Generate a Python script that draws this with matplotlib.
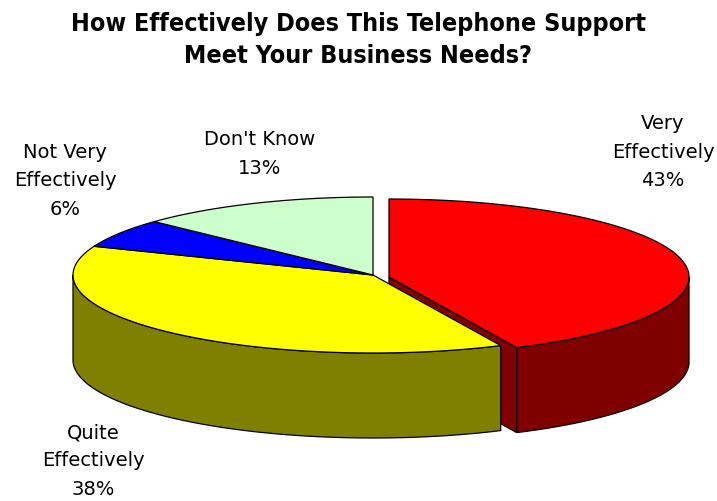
import numpy as np
import matplotlib
matplotlib.use("Agg")
import matplotlib.pyplot as plt
from matplotlib.patches import Polygon
from matplotlib import font_manager

# ---- data ----
categories = ["Very\nEffectively", "Quite\nEffectively", "Not Very\nEffectively", "Don't Know"]
values = [43, 38, 6, 13]
top_colors = ["#FF0000", "#FFFF00", "#0000FF", "#CCFFCC"]
side_colors = ["#800000", "#808000", "#000080", "#669966"]
exploded = [True, False, False, False]
title = "How Effectively Does This Telephone Support\nMeet Your Business Needs?"

# ---- fonts ----
def has_font(name):
    try:
        font_manager.findfont(font_manager.FontProperties(family=name), fallback_to_default=False)
        return True
    except Exception:
        return False

title_family = "Liberation Sans Narrow" if has_font("Liberation Sans Narrow") else "DejaVu Sans"
title_stretch = "normal" if title_family == "Liberation Sans Narrow" else "condensed"

W, H = 717, 501
fig = plt.figure(figsize=(W / 100, H / 100), dpi=100)
ax = fig.add_axes([0, 0, 1, 1])
ax.set_xlim(0, W)
ax.set_ylim(H, 0)
ax.axis("off")

# geometry of the 3D pie (screen layout)
CX, CY = 373, 275      # centre of top ellipse
A, B = 300, 78          # semi-axes of the ellipse
DEPTH = 85              # thickness of the pie
EXPL = (16, 2)          # offset of an exploded slice

total = float(sum(values))
bounds = np.concatenate([[0], np.cumsum(values)]) / total * 2 * np.pi


def arc(cx, cy, t1, t2, dy=0.0, n=120):
    t = np.linspace(t1, t2, n)
    return np.column_stack([cx + A * np.sin(t), cy - B * np.cos(t) + dy])


LW = 0.9
for i, v in enumerate(values):
    t1, t2 = bounds[i], bounds[i + 1]
    cx, cy = (CX + EXPL[0], CY + EXPL[1]) if exploded[i] else (CX, CY)
    # top
    top = np.vstack([[cx, cy], arc(cx, cy, t1, t2)])
    ax.add_patch(Polygon(top, closed=True, facecolor=top_colors[i], edgecolor="black",
                         lw=LW, zorder=3))
    # front wall (visible between 90 and 270 degrees)
    w1, w2 = max(t1, np.pi / 2), min(t2, 3 * np.pi / 2)
    if w2 > w1:
        upper = arc(cx, cy, w1, w2)
        lower = arc(cx, cy, w2, w1, dy=DEPTH)
        ax.add_patch(Polygon(np.vstack([upper, lower]), closed=True,
                             facecolor=side_colors[i], edgecolor="black", lw=LW, zorder=2))
    # cut faces of exploded slices
    if exploded[i]:
        for t, sgn in ((t1, -1), (t2, 1)):
            if sgn * np.sin(t) > 1e-6:
                px, py = cx + A * np.sin(t), cy - B * np.cos(t)
                face = [[cx, cy], [px, py], [px, py + DEPTH], [cx, cy + DEPTH]]
                ax.add_patch(Polygon(face, closed=True, facecolor=side_colors[i],
                                     edgecolor="black", lw=LW, zorder=1))

# ---- labels ----
label_pos = [(663, 152), (93, 461), (65, 181), (260, 154)]
for cat, v, (lx, ly) in zip(categories, values, label_pos):
    ax.text(lx, ly, f"{cat}\n{v}%", ha="center", va="center", fontsize=14,
            family="DejaVu Sans", color="black", linespacing=1.62, zorder=5)

ax.text(W / 2, 40, title, ha="center", va="center", fontsize=18, fontweight="bold",
        family=title_family, fontstretch=title_stretch, linespacing=1.38, zorder=5)

fig.savefig("out.png", dpi=100)
